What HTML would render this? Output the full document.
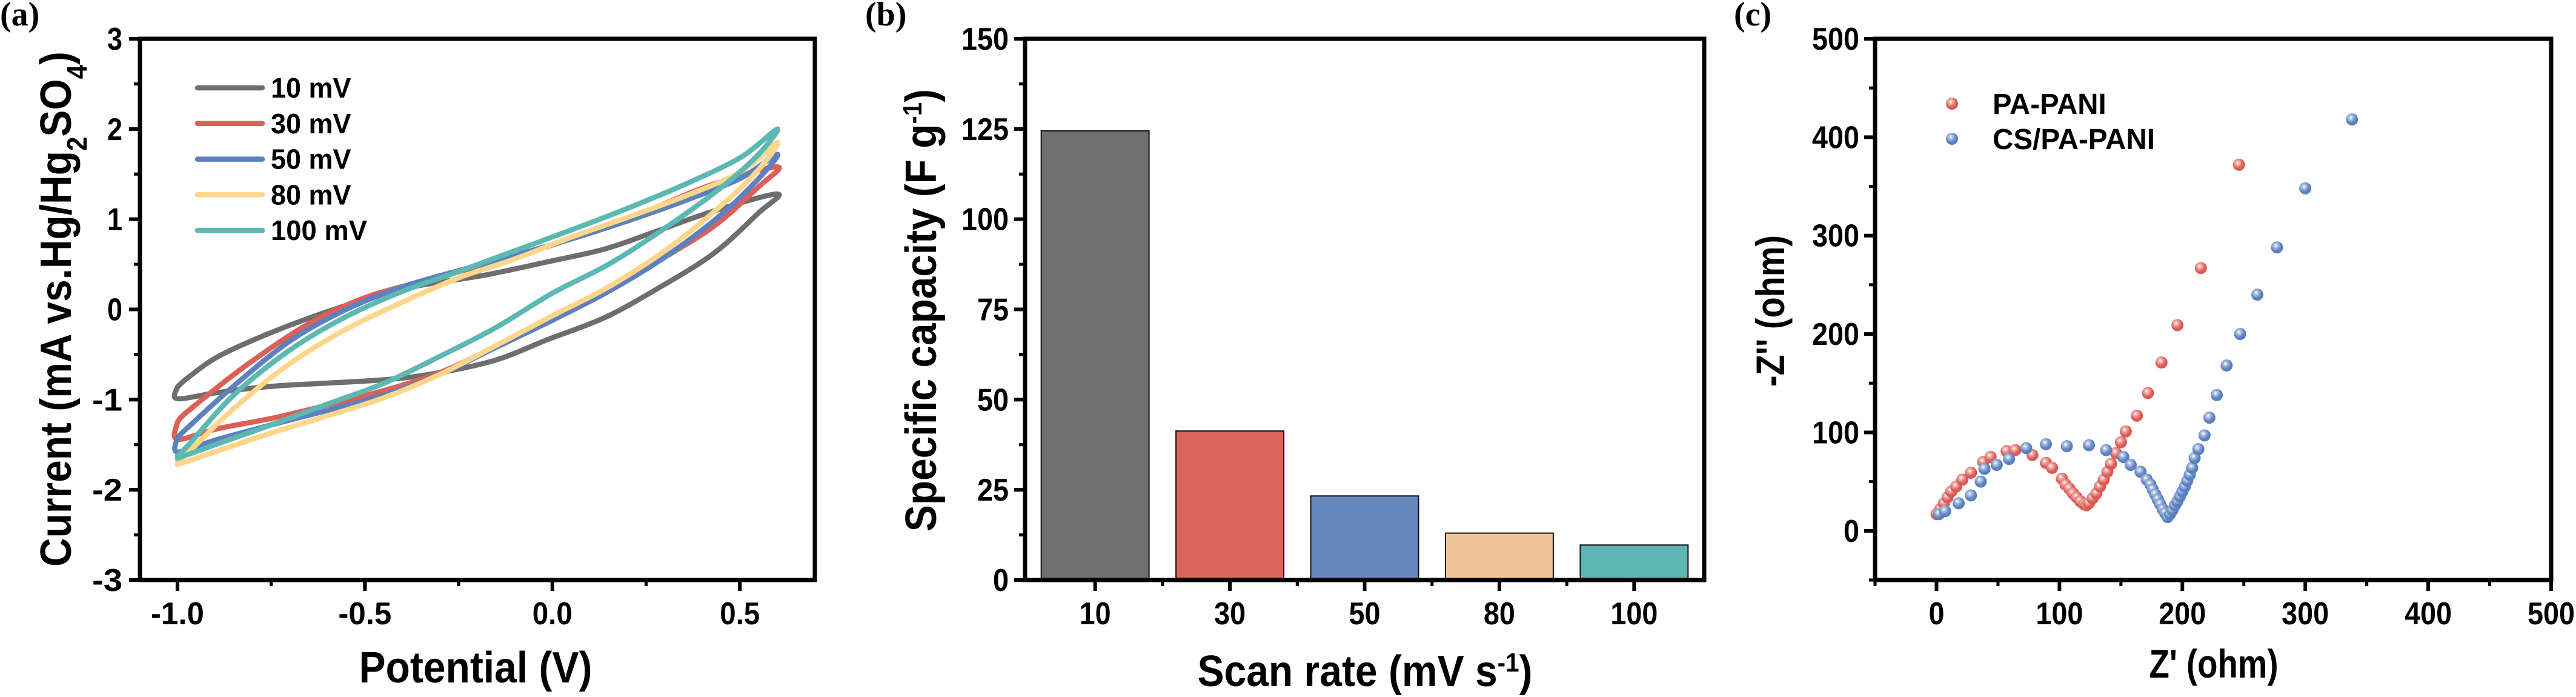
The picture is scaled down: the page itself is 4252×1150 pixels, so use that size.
<!DOCTYPE html>
<html><head><meta charset="utf-8"><style>
html,body{margin:0;padding:0;background:#fff}
svg{display:block}
text{font-family:"Liberation Sans",sans-serif;font-weight:bold;fill:#000}
.lab{font-family:"Liberation Serif",serif;font-weight:bold}
</style></head><body>
<svg id="fig" width="4252" height="1150" viewBox="0 0 4252 1150" xmlns="http://www.w3.org/2000/svg">
<defs>
<radialGradient id="gr" cx="0.4" cy="0.35" r="0.6"><stop offset="0" stop-color="#fff"/><stop offset="0.3" stop-color="#f0a8a4"/><stop offset="0.75" stop-color="#dc5a55"/></radialGradient>
<radialGradient id="gb" cx="0.4" cy="0.35" r="0.6"><stop offset="0" stop-color="#fff"/><stop offset="0.3" stop-color="#a8bde0"/><stop offset="0.75" stop-color="#5b80c0"/></radialGradient>
</defs>
</svg>
<script>
// ---- Panel (a) CV data ----
const cvLabels = ["10 mV","30 mV","50 mV","80 mV","100 mV"];
const cvColors = ["#6e6e6e","#dc5f58","#5d80bf","#fdd68a","#5bb8b2"];
const cv10x = [-1,-0.97,-0.886,-0.74,-0.59,-0.48,-0.36,-0.18,-0.01,0.14,0.28,0.43,0.6,0.55,0.43,0.28,0.14,-0.01,-0.15,-0.3,-0.45,-0.74,-0.89,-1,-1];
const cv10y = [-0.86,-0.75,-0.51,-0.24,-0.01,0.13,0.26,0.38,0.53,0.67,0.87,1.09,1.28,1.07,0.62,0.23,-0.09,-0.33,-0.56,-0.70,-0.78,-0.85,-0.92,-0.99,-0.86];
const cv30x = [-1,-0.97,-0.81,-0.65,-0.5,-0.33,-0.15,-0.01,0.14,0.28,0.43,0.6,0.55,0.43,0.28,0.14,-0.01,-0.15,-0.3,-0.45,-0.59,-0.74,-0.89,-1,-1];
const cv30y = [-1.25,-1.12,-0.6,-0.16,0.13,0.33,0.53,0.7,0.92,1.14,1.39,1.58,1.36,0.92,0.53,0.18,-0.11,-0.41,-0.70,-0.9,-1.05,-1.2,-1.32,-1.44,-1.25];
const cv50x = [-1,-0.97,-0.85,-0.7,-0.55,-0.4,-0.25,-0.1,0.05,0.2,0.35,0.5,0.6,0.55,0.45,0.3,0.15,0,-0.15,-0.3,-0.45,-0.6,-0.75,-0.9,-1,-1];
const cv50y = [-1.42,-1.3,-0.85,-0.35,0.0,0.25,0.43,0.6,0.78,0.98,1.2,1.45,1.72,1.45,1.05,0.58,0.2,-0.12,-0.42,-0.72,-0.95,-1.12,-1.28,-1.45,-1.58,-1.42];
const cv80x = [-1,-0.97,-0.85,-0.7,-0.55,-0.4,-0.25,-0.1,0.05,0.2,0.35,0.5,0.6,0.55,0.45,0.3,0.15,0,-0.15,-0.3,-0.45,-0.6,-0.75,-0.9,-1];
const cv80y = [-1.68,-1.58,-1.1,-0.6,-0.22,0.08,0.35,0.56,0.8,1.02,1.25,1.52,1.85,1.55,1.15,0.65,0.25,-0.07,-0.4,-0.72,-0.98,-1.18,-1.37,-1.58,-1.72];
const cv100x = [-1,-0.97,-0.85,-0.7,-0.55,-0.4,-0.25,-0.1,0.05,0.2,0.35,0.5,0.6,0.55,0.45,0.3,0.15,0,-0.15,-0.3,-0.45,-0.6,-0.75,-0.9,-1];
const cv100y = [-1.62,-1.5,-0.95,-0.45,-0.08,0.2,0.42,0.65,0.88,1.12,1.38,1.68,2.0,1.72,1.35,0.9,0.5,0.18,-0.2,-0.52,-0.82,-1.05,-1.28,-1.5,-1.65];
const cvXTicks = [-1.0,-0.5,0.0,0.5];
const cvXTickLabels = ["-1.0","-0.5","0.0","0.5"];
const cvYTicks = [-3,-2,-1,0,1,2,3];
const cvYTickLabels = ["-3","-2","-1","0","1","2","3"];

// ---- Panel (b) bar data ----
const barCats = ["10","30","50","80","100"];
const barVals = [124.5,41.3,23.3,13.0,9.7];
const barColors = ["#6f6f6f","#dc645d","#6688bb","#f2c497","#5db6b3"];
const barYTicks = [0,25,50,75,100,125,150];
const barYTickLabels = ["0","25","50","75","100","125","150"];

// ---- Panel (c) EIS data ----
const paX = [0,3,6,9,12,16,21,28,38,44,57,64,78,89,94,102,105,108,111,114,117,120,122,124,127,130,133,136,139,142,146,150,154,163,172,183,196,215,246];
const paY = [17,22,28,34,40,45,52,59,70,75,81,82,77,69,64,53,47,43,38,34,30,27,26,28,33,38,45,52,60,68,79,90,101,117,140,171,209,267,372];
const csX = [2,7,18,28,36,39,49,59,73,89,106,124,138,152,158,166,171,174,176,178,180,182,184,186,188,190,192,194,196,198,200,202,204,206,208,210,213,218,222,228,236,247,261,277,300,338];
const csY = [17,20,28,36,50,63,67,73,84,88,86,87,82,75,67,60,52,47,42,37,32,27,22,18,14,17,21,26,30,35,40,45,51,57,64,74,83,97,115,138,168,200,240,288,348,418];
const eisTicks = [0,100,200,300,400,500];
const eisTickLabels = ["0","100","200","300","400","500"];
const eisLegend = ["PA-PANI","CS/PA-PANI"];

const NS="http://www.w3.org/2000/svg";
const svg=document.getElementById('fig');
function mk(tag,attrs,parent,txt){const e=document.createElementNS(NS,tag);for(const k in attrs)e.setAttribute(k,attrs[k]);if(txt!==undefined)e.textContent=txt;(parent||svg).appendChild(e);return e;}
function lin(d0,d1,p0,p1){return v=>p0+(v-d0)/(d1-d0)*(p1-p0);}
function smooth(P){
  let d='M'+P[0][0].toFixed(1)+','+P[0][1].toFixed(1);
  for(let i=0;i<P.length-1;i++){
    const p0=P[Math.max(i-1,0)],p1=P[i],p2=P[i+1],p3=P[Math.min(i+2,P.length-1)];
    const c1=[p1[0]+(p2[0]-p0[0])/6,p1[1]+(p2[1]-p0[1])/6];
    const c2=[p2[0]-(p3[0]-p1[0])/6,p2[1]-(p3[1]-p1[1])/6];
    d+=' C'+c1[0].toFixed(1)+','+c1[1].toFixed(1)+' '+c2[0].toFixed(1)+','+c2[1].toFixed(1)+' '+p2[0].toFixed(1)+','+p2[1].toFixed(1);
  }
  return d;
}

const TOP=64, BOT=957;

// ===== Panel A =====
const gA=mk('g',{});


const ax=lin(-1.1,0.7,231,1345), ay=lin(-3,3,BOT,TOP);
let t=mk('text',{x:0,y:42,class:'lab','font-size':56},gA,'(a)');

const cvXs=[cv10x,cv30x,cv50x,cv80x,cv100x], cvYs=[cv10y,cv30y,cv50y,cv80y,cv100y];
for(let i=0;i<5;i++){
  const P=cvXs[i].map((x,j)=>[ax(x),ay(cvYs[i][j])]);
  const p=mk('path',{d:smooth(P),fill:'none',stroke:cvColors[i],'stroke-width':8.5,'stroke-linejoin':'round','stroke-linecap':'round'},gA);
  
  
}
for(let i=0;i<5;i++){
  const y=145+i*58.8;
  const l=mk('line',{x1:326,x2:433,y1:y,y2:y,stroke:cvColors[i],'stroke-width':8.5,'stroke-linecap':'round'},gA);
  
  const tx=mk('text',{x:447,y:y+16,'font-size':46,textLength:cvLabels[i].length*26.5,lengthAdjust:'spacingAndGlyphs'},gA,cvLabels[i]);
  
}
const frA=mk('rect',{x:231,y:TOP,width:1114,height:BOT-TOP,fill:'none',stroke:'#000','stroke-width':7},gA);

cvYTicks.forEach((v,i)=>{
  const y=ay(v);
  mk('line',{x1:213,x2:231,y1:y,y2:y,stroke:'#000','stroke-width':6},gA);
  if(i<cvYTicks.length-1){const ym=ay(v+0.5);mk('line',{x1:221,x2:231,y1:ym,y2:ym,stroke:'#000','stroke-width':5},gA);}
  const tx=mk('text',{x:202,y:y+18,'text-anchor':'end','font-size':52,textLength:cvYTickLabels[i].length*25,lengthAdjust:'spacingAndGlyphs'},gA,cvYTickLabels[i]);
  
});
cvXTicks.forEach((v,i)=>{
  const x=ax(v);
  mk('line',{x1:x,x2:x,y1:BOT,y2:BOT+18,stroke:'#000','stroke-width':6},gA);
  if(i<cvXTicks.length-1){const xm=ax(v+0.25);mk('line',{x1:xm,x2:xm,y1:BOT,y2:BOT+10,stroke:'#000','stroke-width':5},gA);}
  const tx=mk('text',{x:x,y:1030,'text-anchor':'middle','font-size':52,textLength:cvXTickLabels[i].length*22,lengthAdjust:'spacingAndGlyphs'},gA,cvXTickLabels[i]);
  
});
t=mk('text',{x:785,y:1126,'text-anchor':'middle','font-size':72,textLength:385,lengthAdjust:'spacingAndGlyphs'},gA,'Potential (V)');

t=mk('text',{x:0,y:0,'text-anchor':'middle','font-size':72,textLength:850,lengthAdjust:'spacingAndGlyphs',transform:'translate(117,510) rotate(-90)'},gA);

t.innerHTML='Current (mA vs.Hg/Hg<tspan baseline-shift="sub" font-size="46">2</tspan>SO<tspan baseline-shift="sub" font-size="46">4</tspan>)';

// ===== Panel B =====
const gB=mk('g',{});


const bx=lin(-0.52,4.52,1692,2813), by=lin(0,150,BOT,TOP);
t=mk('text',{x:1428,y:42,class:'lab','font-size':56},gB,'(b)');

const bw=(bx(1)-bx(0))*0.8;
barVals.forEach((v,i)=>{
  const r=mk('rect',{x:bx(i)-bw/2,y:by(v),width:bw,height:by(0)-by(v),fill:barColors[i],stroke:'#111','stroke-width':2},gB);
  
});
const frB=mk('rect',{x:1692,y:TOP,width:1121,height:BOT-TOP,fill:'none',stroke:'#000','stroke-width':7},gB);

barYTicks.forEach((v,i)=>{
  const y=by(v);
  mk('line',{x1:1674,x2:1692,y1:y,y2:y,stroke:'#000','stroke-width':6},gB);
  if(i<barYTicks.length-1){const ym=by(v+12.5);mk('line',{x1:1682,x2:1692,y1:ym,y2:ym,stroke:'#000','stroke-width':5},gB);}
  const tx=mk('text',{x:1665,y:y+18,'text-anchor':'end','font-size':52,textLength:barYTickLabels[i].length*26,lengthAdjust:'spacingAndGlyphs'},gB,barYTickLabels[i]);
  
});
barCats.forEach((c,i)=>{
  const x=bx(i);
  mk('line',{x1:x,x2:x,y1:BOT,y2:BOT+18,stroke:'#000','stroke-width':6},gB);
  if(i<barCats.length-1){const xm=bx(i+0.5);mk('line',{x1:xm,x2:xm,y1:BOT,y2:BOT+10,stroke:'#000','stroke-width':5},gB);}
  const tx=mk('text',{x:x,y:1030,'text-anchor':'middle','font-size':52,textLength:c.length*26,lengthAdjust:'spacingAndGlyphs'},gB,c);
  
});
t=mk('text',{x:2253,y:1132,'text-anchor':'middle','font-size':72,textLength:553,lengthAdjust:'spacingAndGlyphs'},gB);

t.innerHTML='Scan rate (mV s<tspan baseline-shift="super" font-size="44">-1</tspan>)';
t=mk('text',{x:0,y:0,'text-anchor':'middle','font-size':72,textLength:730,lengthAdjust:'spacingAndGlyphs',transform:'translate(1545,512) rotate(-90)'},gB);

t.innerHTML='Specific capacity (F g<tspan baseline-shift="super" font-size="44">-1</tspan>)';

// ===== Panel C =====
const gC=mk('g',{});


const cx=lin(-50,500,3095,4211), cy=lin(-50,500,BOT,TOP);
t=mk('text',{x:2862,y:42,class:'lab','font-size':56},gC,'(c)');

paX.forEach((x,i)=>{
  const c=mk('circle',{cx:cx(x),cy:cy(paY[i]),r:10,fill:'url(#gr)'},gC);
  
});
csX.forEach((x,i)=>{
  const c=mk('circle',{cx:cx(x),cy:cy(csY[i]),r:10,fill:'url(#gb)'},gC);
  
});
[['url(#gr)',171],['url(#gb)',229]].forEach((m,i)=>{
  const c=mk('circle',{cx:3222,cy:m[1],r:10,fill:m[0]},gC);
  
  const tx=mk('text',{x:3289,y:m[1]+17,'font-size':48,textLength:eisLegend[i].length*26.8,lengthAdjust:'spacingAndGlyphs'},gC,eisLegend[i]);
  
});
const frC=mk('rect',{x:3095,y:TOP,width:1116,height:BOT-TOP,fill:'none',stroke:'#000','stroke-width':7},gC);

eisTicks.forEach((v,i)=>{
  const y=cy(v), x=cx(v);
  mk('line',{x1:3077,x2:3095,y1:y,y2:y,stroke:'#000','stroke-width':6},gC);
  const ym=cy(v-50);mk('line',{x1:3085,x2:3095,y1:ym,y2:ym,stroke:'#000','stroke-width':5},gC);
  mk('line',{x1:x,x2:x,y1:BOT,y2:BOT+18,stroke:'#000','stroke-width':6},gC);
  const xm=cx(v-50);mk('line',{x1:xm,x2:xm,y1:BOT,y2:BOT+10,stroke:'#000','stroke-width':5},gC);
  const ty=mk('text',{x:3069,y:y+18,'text-anchor':'end','font-size':52,textLength:eisTickLabels[i].length*26,lengthAdjust:'spacingAndGlyphs'},gC,eisTickLabels[i]);
  
  const tx=mk('text',{x:x,y:1030,'text-anchor':'middle','font-size':52,textLength:eisTickLabels[i].length*26,lengthAdjust:'spacingAndGlyphs'},gC,eisTickLabels[i]);
  
});
t=mk('text',{x:3654,y:1118,'text-anchor':'middle','font-size':66,textLength:213,lengthAdjust:'spacingAndGlyphs'},gC,"Z' (ohm)");

t=mk('text',{x:0,y:0,'text-anchor':'middle','font-size':66,textLength:250,lengthAdjust:'spacingAndGlyphs',transform:'translate(2945,513) rotate(-90)'},gC,"-Z'' (ohm)");

</script>
</body></html>
